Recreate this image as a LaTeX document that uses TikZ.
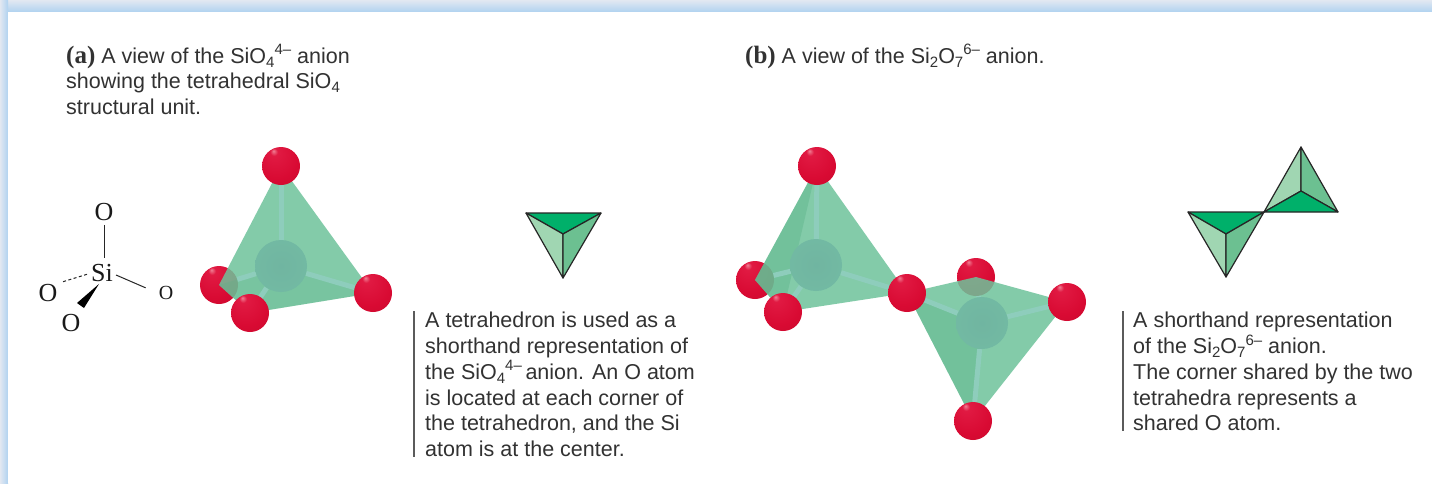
\documentclass[tikz,border=0pt]{standalone}
\usepackage{fontspec}
\setmainfont{Liberation Sans}
\newfontfamily\formulafont{Liberation Serif}
\definecolor{inktext}{RGB}{50,50,50}
\definecolor{framea}{RGB}{176,210,240}
\definecolor{frameb}{RGB}{226,232,241}
\definecolor{tetra}{RGB}{110,195,155}
\definecolor{tetradark}{RGB}{90,178,135}
\definecolor{stick}{RGB}{142,205,188}
\definecolor{flatlight}{RGB}{160,214,178}
\definecolor{flatmid}{RGB}{108,192,145}
\definecolor{flatdark}{RGB}{0,176,106}
\pgfdeclareradialshading{oxyball}{\pgfpoint{-10bp}{20bp}}{
  rgb(0bp)=(.94,.50,.58); rgb(5bp)=(.88,.10,.26); rgb(28bp)=(.85,.04,.20);
  rgb(42bp)=(.80,.04,.18); rgb(54bp)=(.50,.12,.18); rgb(64bp)=(.30,.22,.22)}
\pgfdeclareradialshading{siball}{\pgfpoint{0bp}{0bp}}{
  rgb(0bp)=(.44,.71,.63); rgb(30bp)=(.45,.73,.64); rgb(50bp)=(.47,.76,.65)}
\pgfdeclarelayer{backatom}
\pgfdeclarelayer{face}
\pgfdeclarelayer{bond}
\pgfsetlayers{backatom,face,bond,main}
\newcommand{\subt}[1]{\raisebox{-4pt}{\fontsize{15}{15}\selectfont #1}}
\newcommand{\supt}[1]{\raisebox{8.5pt}{\fontsize{15}{15}\selectfont #1}}
\newcommand{\parttag}[1]{{\formulafont\bfseries\fontsize{25}{25.8}\selectfont #1}}
\begin{document}
\begin{tikzpicture}[
  x=1pt, y=-1pt,
  every node/.style={inner sep=0pt},
  note/.style={anchor=north west, align=left, text=inktext, font=\fontsize{21.5}{25.8}\selectfont},
  rulebar/.style={draw=inktext!80, line width=1.2pt},
  atomtext/.style={font=\formulafont\fontsize{26}{26}\selectfont, text=black!90, inner sep=1pt},
  bondline/.style={draw=black!85, line width=1pt},
  oxygen/.style={circle, minimum size=38pt, shading=oxyball},
  silicon/.style={circle, minimum size=52pt, shading=siball},
  bond/.style={draw=stick, line width=5pt},
  glass/.style={fill=tetra, fill opacity=0.85},
  glassdark/.style={fill=tetradark, fill opacity=0.4},
  flat/.style={draw=black!85, line width=1.2pt, line join=round}]

  \useasboundingbox (0,0) rectangle (1432,483);

  \begin{pgfonlayer}{backatom}
    \shade[top color=frameb, bottom color=framea] (0,0) rectangle (1432,12);
    \shade[left color=frameb, right color=framea] (0,0) rectangle (8,483);
    \fill[white] (8,12) rectangle (1432,483);
  \end{pgfonlayer}

  \node[note] (capa) at (66,44) {\parttag{(a)} A view of the SiO\subt{4}\supt{4--} anion\\
    showing the tetrahedral SiO\subt{4}\\structural unit.};
  \node[note] (capb) at (745,44) {\parttag{(b)} A view of the Si\subt{2}O\subt{7}\supt{6--} anion.};
  \node[note] (notea) at (425,312) {A tetrahedron is used as a\\shorthand representation of\\
    the SiO\subt{4}\supt{4--}\,anion. An O atom\\is located at each corner of\\
    the tetrahedron, and the Si\\atom is at the center.};
  \node[note] (noteb) at (1133,312) {A shorthand representation\\of the Si\subt{2}O\subt{7}\supt{6--} anion.\\
    The corner shared by the two\\tetrahedra represents a\\shared O atom.};

  \coordinate (ruleatop) at (414,311);
  \coordinate (ruleabot) at (414,457);
  \coordinate (rulebtop) at (1123,311);
  \coordinate (rulebbot) at (1123,431);
  \draw[rulebar] (ruleatop) -- (ruleabot);
  \draw[rulebar] (rulebtop) -- (rulebbot);

  \node[atomtext] (fsi)  at (102,273) {Si};
  \node[atomtext] (ftop) at (104,212) {O};
  \node[atomtext] (flef) at (48,293) {O};
  \node[atomtext] (fbot) at (71,323) {O};
  \node[atomtext, font=\formulafont\fontsize{20}{20}\selectfont] (frig) at (166,293) {O};
  \coordinate (fwa) at (77,303);
  \coordinate (fwb) at (84,308);
  \draw[bondline, shorten >=5pt] (ftop.south) ++(0,3) -- (fsi.north -| ftop.south);
  \draw[bondline, dash pattern=on 3pt off 2.5pt, shorten <=1pt, shorten >=4pt] (fsi.west) ++(-2,1) -- (flef.north east);
  \draw[bondline, shorten >=13pt] (fsi.east) ++(2,2) -- (frig.west);
  \fill[black] (fsi.south) ++(-3,1) -- (fwa) -- (fwb) -- cycle;

  % single tetrahedron
  \begin{pgfonlayer}{backatom}
    \node[oxygen] (oal) at (219,285) {};
  \end{pgfonlayer}
  \node[silicon] (sia) at (281,266) {};
  \node[oxygen] (oat) at (281,166) {};
  \node[oxygen] (oar) at (373,293) {};
  \node[oxygen] (oaf) at (250,313) {};
  \begin{pgfonlayer}{face}
    \fill[glass] (oat.center) -- (oar.center) -- (oaf.center) -- (oal.center) -- cycle;
    \fill[glassdark, fill opacity=.25] (oal.center) -- (sia.center) -- (oar.center) -- (oaf.center) -- cycle;
  \end{pgfonlayer}
  \begin{pgfonlayer}{bond}
    \foreach \o in {oat,oar,oal,oaf} \draw[bond] (sia) -- (\o);
  \end{pgfonlayer}

  \coordinate (fal) at (526,213);
  \coordinate (far) at (601,213);
  \coordinate (fai) at (563,234);
  \coordinate (fab) at (563,278);
  \filldraw[flat, fill=flatdark] (fal) -- (far) -- (fai) -- cycle;
  \filldraw[flat, fill=flatlight] (fal) -- (fai) -- (fab) -- cycle;
  \filldraw[flat, fill=flatmid] (far) -- (fai) -- (fab) -- cycle;

  % two tetrahedra
  \begin{pgfonlayer}{backatom}
    \node[oxygen] (obl) at (755,280) {};
    \node[oxygen] (oct) at (976,277) {};
  \end{pgfonlayer}
  \node[silicon] (sib) at (816,265) {};
  \node[silicon] (sic) at (982,323) {};
  \node[oxygen] (obt) at (817,166) {};
  \node[oxygen] (obf) at (783,312) {};
  \node[oxygen] (osh) at (907,293) {};
  \node[oxygen] (ocr) at (1067,302) {};
  \node[oxygen] (ocb) at (973,421) {};
  \begin{pgfonlayer}{face}
    \fill[glass] (obt.center) -- (osh.center) -- (obf.center) -- (obl.center) -- cycle;
    \fill[glassdark] (obt.center) -- (obf.center) -- (obl.center) -- cycle;
    \fill[glass] (osh.center) -- (oct.center) -- (ocr.center) -- (ocb.center) -- cycle;
    \fill[glassdark] (osh.center) -- (sic.center) -- (ocb.center) -- cycle;
  \end{pgfonlayer}
  \begin{pgfonlayer}{bond}
    \foreach \o in {obt,osh,obl,obf} \draw[bond] (sib) -- (\o);
    \foreach \o in {osh,oct,ocr,ocb} \draw[bond] (sic) -- (\o);
  \end{pgfonlayer}

  \coordinate (fbl) at (1188,212);
  \coordinate (fsh) at (1264,212);
  \coordinate (fbi) at (1226,234);
  \coordinate (fbb) at (1226,277);
  \coordinate (fca) at (1301,147);
  \coordinate (fcr) at (1338,212);
  \coordinate (fci) at (1301,191);
  \filldraw[flat, fill=flatdark] (fbl) -- (fsh) -- (fbi) -- cycle;
  \filldraw[flat, fill=flatlight] (fbl) -- (fbi) -- (fbb) -- cycle;
  \filldraw[flat, fill=flatmid] (fsh) -- (fbi) -- (fbb) -- cycle;
  \filldraw[flat, fill=flatlight] (fca) -- (fci) -- (fsh) -- cycle;
  \filldraw[flat, fill=flatmid] (fca) -- (fci) -- (fcr) -- cycle;
  \filldraw[flat, fill=flatdark] (fsh) -- (fci) -- (fcr) -- cycle;

\end{tikzpicture}
\end{document}
